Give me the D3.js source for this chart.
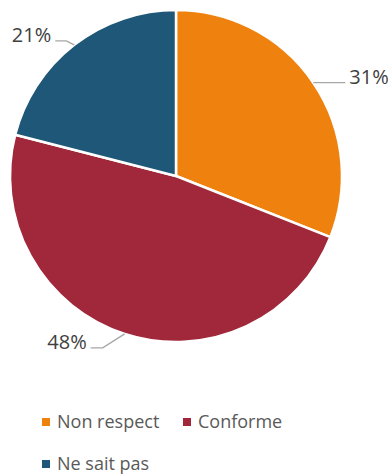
<!DOCTYPE html>
<html>
<head>
<meta charset="utf-8" />
<script src="https://d3js.org/d3.v7.min.js"></script>
<style>
  body { margin: 0; background: #fff; }
  text { font-family: "Open Sans", "Liberation Sans", sans-serif; }
</style>
</head>
<body>
<svg id="chart" width="392" height="475"></svg>
<script>
var categories = ["Non respect", "Conforme", "Ne sait pas"];
var values = [31, 48, 21];
var labels = ["31%", "48%", "21%"];
var colors = ["#ef820e", "#a0283a", "#1f5778"];

var svg = d3.select("#chart");
var cx = 176, cy = 176, radius = 166;

var pie = d3.pie().sort(null).value(function (d) { return d; });
var arc = d3.arc().innerRadius(0).outerRadius(radius);
var arcs = pie(values);

var g = svg.append("g").attr("transform", "translate(" + cx + "," + cy + ")");

g.selectAll("path.slice")
  .data(arcs)
  .enter().append("path")
  .attr("class", "slice")
  .attr("d", arc)
  .attr("fill", function (d, i) { return colors[i]; })
  .attr("stroke", "#fff")
  .attr("stroke-width", 2.5)
  .attr("stroke-linejoin", "round");

// leader lines: start on the rim at slice midpoint, elbow then horizontal
// [elbow dx, elbow dy, horizontal length, side]
var leader = [
  [0, 0, 32, 1],
  [-22, 14, 12, -1],
  [-8, -4, 11, -1]
];

arcs.forEach(function (d, i) {
  var a = (d.startAngle + d.endAngle) / 2;
  var x0 = radius * Math.sin(a), y0 = -radius * Math.cos(a);
  var L = leader[i];
  var x1 = x0 + L[0], y1 = y0 + L[1];
  var x2 = x1 + L[3] * L[2];
  g.append("path")
    .attr("d", d3.line()([[x0, y0], [x1, y1], [x2, y1]]))
    .attr("fill", "none")
    .attr("stroke", "#a6a6a6")
    .attr("stroke-width", 1.3);
  g.append("text")
    .attr("x", x2 + L[3] * 4)
    .attr("y", y1 + 1)
    .attr("text-anchor", L[3] > 0 ? "start" : "end")
    .attr("font-size", 20)
    .attr("fill", "#404040")
    .text(labels[i]);
});

// legend
var legendPos = [[42, 428], [183, 428], [42, 470]];
var lg = svg.selectAll("g.legend")
  .data(categories)
  .enter().append("g")
  .attr("class", "legend")
  .attr("transform", function (d, i) { return "translate(" + legendPos[i][0] + "," + legendPos[i][1] + ")"; });

lg.append("rect")
  .attr("x", 0).attr("y", -10)
  .attr("width", 8).attr("height", 8)
  .attr("fill", function (d, i) { return colors[i]; });

lg.append("text")
  .attr("x", 15).attr("y", 0)
  .attr("font-size", 18)
  .attr("fill", "#595959")
  .text(function (d) { return d; });
</script>
</body>
</html>
